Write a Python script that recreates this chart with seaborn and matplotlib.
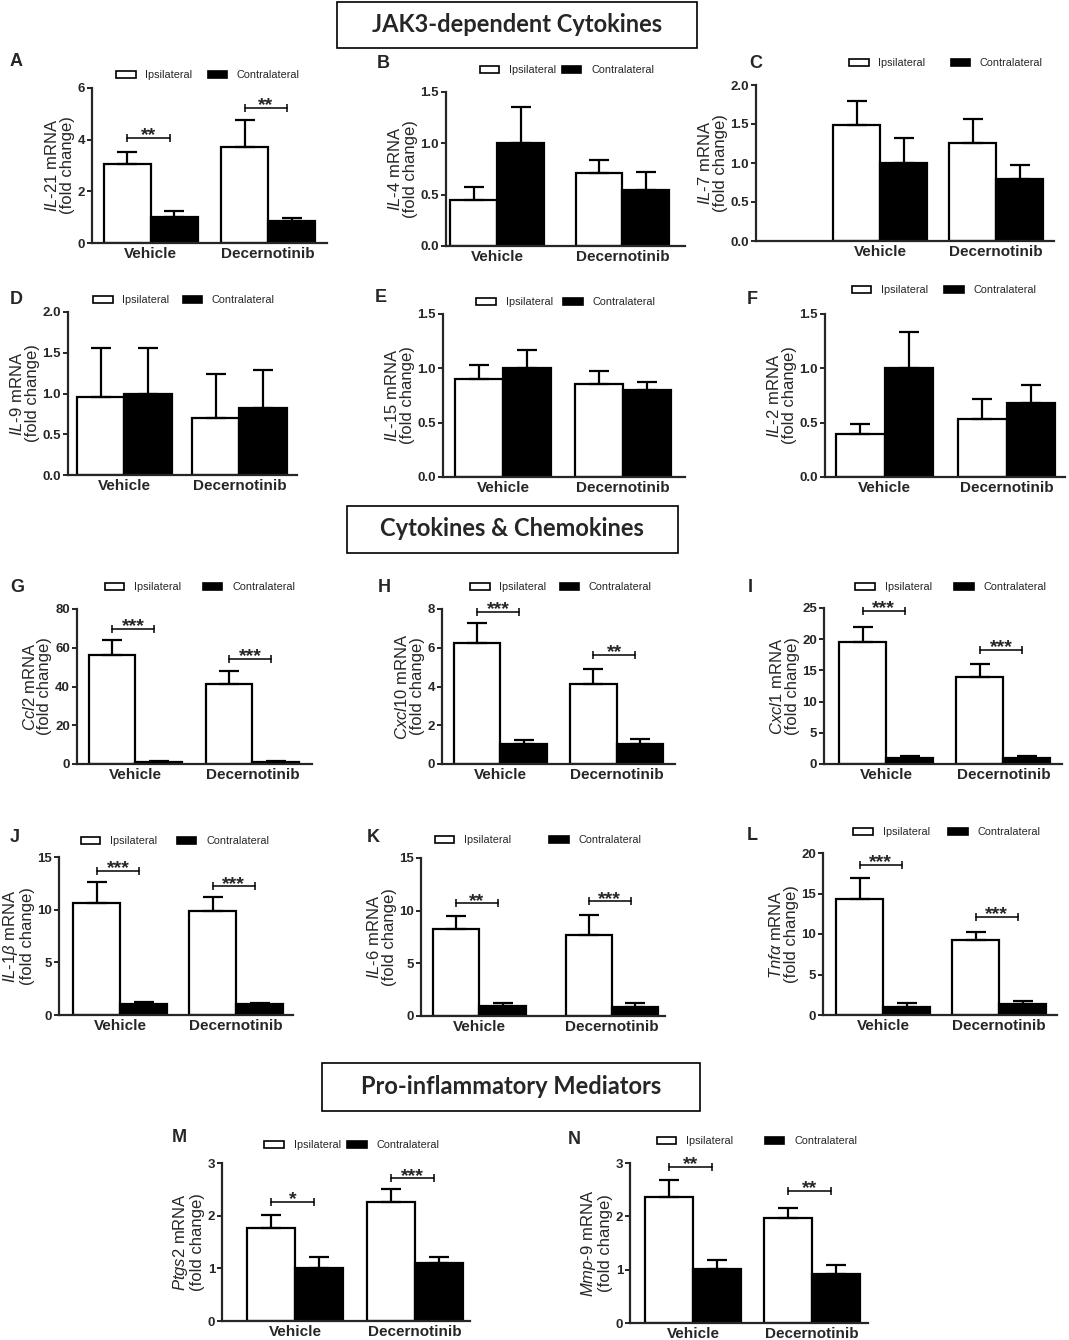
import numpy as np
import pandas as pd
import matplotlib
matplotlib.use("Agg")
import matplotlib.pyplot as plt
import seaborn as sns
from matplotlib.patches import Patch, Rectangle
from matplotlib.ticker import MultipleLocator, FormatStrFormatter

sns.set_style("ticks")
plt.rcParams['font.family'] = ['Liberation Sans', 'DejaVu Sans']
plt.rcParams['mathtext.fontset'] = 'custom'
plt.rcParams['mathtext.it'] = 'Liberation Sans:italic'
plt.rcParams['mathtext.rm'] = 'Liberation Sans'
plt.rcParams['mathtext.bf'] = 'Liberation Sans:bold'

# ---- data ----
groups = ["Vehicle", "Decernotinib"]
sides = ["Ipsilateral", "Contralateral"]
panel_ids = list("ABCDEFGHIJKLMN")
genes = [r"$\mathit{IL}$-$\mathit{21}$", r"$\mathit{IL}$-$\mathit{4}$", r"$\mathit{IL}$-$\mathit{7}$",
         r"$\mathit{IL}$-$\mathit{9}$", r"$\mathit{IL}$-$\mathit{15}$", r"$\mathit{IL}$-$\mathit{2}$",
         r"$\mathit{Ccl2}$", r"$\mathit{Cxcl10}$", r"$\mathit{Cxcl1}$",
         r"$\mathit{IL}$-$\mathit{1\beta}$", r"$\mathit{IL}$-$\mathit{6}$", r"$\mathit{Tnf\alpha}$",
         r"$\mathit{Ptgs2}$", r"$\mathit{Mmp}$-$\mathit{9}$"]
y_max = [6, 1.5, 2.0, 2.0, 1.5, 1.5, 80, 8, 25, 15, 15, 20, 3, 3]
y_step = [2, 0.5, 0.5, 0.5, 0.5, 0.5, 20, 2, 5, 5, 5, 5, 1, 1]

ipsi_mean = [[3.05, 3.70], [0.45, 0.71], [1.49, 1.26], [0.96, 0.70], [0.90, 0.86], [0.40, 0.53],
             [56.1, 41.2], [6.27, 4.14], [19.5, 14.0], [10.67, 9.88], [8.28, 7.7], [14.3, 9.3],
             [1.77, 2.26], [2.36, 1.97]]
ipsi_sem = [[0.48, 1.06], [0.12, 0.13], [0.30, 0.31], [0.60, 0.54], [0.13, 0.12], [0.09, 0.19],
            [8.1, 6.9], [0.99, 0.77], [2.4, 2.0], [1.93, 1.32], [1.22, 1.9], [2.6, 0.9],
            [0.24, 0.24], [0.32, 0.19]]
contra_mean = [[1.00, 0.86], [1.00, 0.55], [1.00, 0.79], [1.00, 0.82], [1.00, 0.80], [1.00, 0.68],
               [1.0, 1.0], [1.05, 1.05], [1.0, 1.0], [1.0, 1.0], [0.98, 0.89], [1.0, 1.3],
               [1.00, 1.11], [1.01, 0.92]]
contra_sem = [[0.22, 0.11], [0.35, 0.17], [0.32, 0.18], [0.56, 0.47], [0.17, 0.07], [0.33, 0.17],
              [0.4, 0.3], [0.20, 0.24], [0.35, 0.30], [0.2, 0.1], [0.29, 0.31], [0.45, 0.4],
              [0.21, 0.10], [0.17, 0.17]]
# (group index, bracket height, label)
sig_marks = [[(0, 4.06, "**"), (1, 5.23, "**")], [], [], [], [], [],
             [(0, 69.7, "***"), (1, 54.2, "***")], [(0, 7.86, "***"), (1, 5.63, "**")],
             [(0, 24.5, "***"), (1, 18.3, "***")], [(0, 13.7, "***"), (1, 12.2, "***")],
             [(0, 10.7, "**"), (1, 10.9, "***")], [(0, 18.5, "***"), (1, 12.1, "***")],
             [(0, 2.26, "*"), (1, 2.71, "***")], [(0, 2.93, "**"), (1, 2.48, "**")]]
section_titles = ["JAK3-dependent Cytokines", "Cytokines & Chemokines", "Pro-inflammatory Mediators"]

# ---- layout (pixels) ----
W, H = 1069, 1340
panel_px = [(92, 88, 327, 243), (446, 92, 685, 246), (756, 85, 1054, 241),
            (68, 312, 297, 475), (443, 314, 685, 477), (825, 314, 1065, 477),
            (77, 609, 312, 764), (442, 609, 675, 764), (824, 608, 1062, 764),
            (59, 857, 293, 1015), (421, 858, 665, 1016), (823, 853, 1057, 1015),
            (222, 1163, 470, 1321), (630, 1163, 868, 1323)]
x_lims = [(-0.5, 1.5), (-0.41, 1.5), (-1.07, 1.5), (-0.49, 1.5), (-0.5, 1.52), (-0.49, 1.48),
          (-0.5, 1.51), (-0.5, 1.5), (-0.53, 1.5), (-0.53, 1.49), (-0.44, 1.4), (-0.52, 1.5),
          (-0.61, 1.46), (-0.53, 1.47)]
bar_w = [0.8, 0.75, 0.81, 0.82, 0.8, 0.8, 0.8, 0.8, 0.8, 0.81, 0.7, 0.81, 0.8, 0.8]
legend_pos = [(208, 75, 1.4), (567, 70, 0.5), (946, 63, 2.3), (184, 300, 1.2), (566, 302, 1.0),
              (944, 290, 1.5), (200, 587, 2.0), (561, 587, 1.2), (951, 587, 2.1), (175, 841, 1.8),
              (538, 840, 3.5), (947, 832, 1.7), (352, 1145, 0.6), (757, 1141, 2.9)]
letter_pos = [(10, 62), (377, 63), (749, 63), (10, 299), (375, 297), (747, 299), (10, 587),
              (378, 587), (748, 587), (10, 838), (367, 838), (747, 836), (172, 1138), (568, 1139)]
title_boxes = [(517, 25, 360, 46), (512, 529, 331, 47), (511, 1087, 378, 48)]

side_colors = {"Ipsilateral": "white", "Contralateral": "black"}

fig = plt.figure(figsize=(W / 100, H / 100), dpi=100)

for i, pid in enumerate(panel_ids):
    l, t, r, b = panel_px[i]
    ax = fig.add_axes([l / W, 1 - b / H, (r - l) / W, (b - t) / H])
    df = pd.DataFrame({
        "group": groups * 2,
        "side": [sides[0]] * 2 + [sides[1]] * 2,
        "value": ipsi_mean[i] + contra_mean[i],
    })
    sns.barplot(data=df, x="group", y="value", hue="side", order=groups, hue_order=sides,
                palette=side_colors, edgecolor="black", linewidth=1.6, width=bar_w[i],
                errorbar=None, saturation=1, legend=False, ax=ax)

    # upper-only SEM bars
    for cont, sem in zip(ax.containers, [ipsi_sem[i], contra_sem[i]]):
        xs = [p.get_x() + p.get_width() / 2 for p in cont]
        hs = [p.get_height() for p in cont]
        ax.errorbar(xs, hs, yerr=[np.zeros(len(sem)), sem], fmt="none", ecolor="black",
                    elinewidth=1.6, capsize=7, capthick=1.6, zorder=3)

    # significance brackets
    w = bar_w[i]
    for g, yv, stars in sig_marks[i]:
        x0, x1 = g - 0.25 * w, g + 0.2 * w
        ax.plot([x0, x1], [yv, yv], color="black", lw=1.1, marker="|", ms=6, mew=1.1, clip_on=False)
        ax.annotate(stars, xy=((x0 + x1) / 2, yv), xytext=(0, 1.5), textcoords="offset points",
                    ha="center", va="center", fontsize=14, fontweight="bold", annotation_clip=False)

    ax.set_xlim(x_lims[i])
    ax.set_ylim(0, y_max[i])
    ax.yaxis.set_major_locator(MultipleLocator(y_step[i]))
    ax.yaxis.set_major_formatter(FormatStrFormatter("%.1f" if y_step[i] < 1 else "%d"))
    sns.despine(ax=ax)
    for s in ["left", "bottom"]:
        ax.spines[s].set_linewidth(1.6)
    ax.tick_params(axis="y", length=3.5, width=1.4, labelsize=9.5, pad=1.5)
    ax.tick_params(axis="x", length=0, labelsize=11, pad=3)
    plt.setp(ax.get_xticklabels() + ax.get_yticklabels(), fontweight="bold")
    ax.set_xlabel("")
    ax.set_ylabel(genes[i] + " mRNA\n(fold change)", fontsize=12, labelpad=2, linespacing=0.95)

    cx, cy, cs = legend_pos[i]
    handles = [Patch(facecolor=side_colors[s], edgecolor="black", linewidth=1.2) for s in sides]
    ax.legend(handles, sides, loc="center", bbox_to_anchor=(cx / W, 1 - cy / H),
              bbox_transform=fig.transFigure, ncol=2, frameon=False, fontsize=7.8,
              handlelength=1.8, handleheight=0.6, handletextpad=0.9, columnspacing=cs,
              borderaxespad=0, borderpad=0)

    lx, ly = letter_pos[i]
    fig.text(lx / W, 1 - ly / H, pid, fontsize=13, fontweight="bold", ha="left", va="center")

for title, (cx, cy, bw, bh) in zip(section_titles, title_boxes):
    fig.patches.append(Rectangle(((cx - bw / 2) / W, 1 - (cy + bh / 2) / H), bw / W, bh / H,
                                 transform=fig.transFigure, fill=False, lw=1.2, edgecolor="black"))
    fig.text(cx / W, 1 - cy / H, title, ha="center", va="center", fontsize=17,
             fontweight="bold", family=["Lato", "DejaVu Sans"])

fig.savefig("out.png", dpi=100)
